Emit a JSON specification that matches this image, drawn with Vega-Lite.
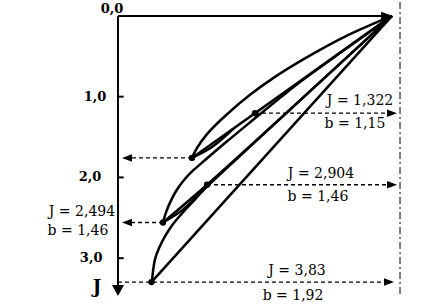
{
  "$schema": "https://vega.github.io/schema/vega-lite/v6.json",
  "width": 448,
  "height": 306,
  "padding": 0,
  "autosize": {"type": "fit", "contains": "padding"},
  "background": "white",
  "config": {"view": {"stroke": null}},
  "datasets": {
    "paths": [
      {"id": "arc1", "kind": "solid", "o": 1, "x": 3.370, "J": 0},
      {"id": "arc1", "kind": "solid", "o": 2, "x": 2.792, "J": 0.256},
      {"id": "arc1", "kind": "solid", "o": 3, "x": 2.300, "J": 0.526},
      {"id": "arc1", "kind": "solid", "o": 4, "x": 1.931, "J": 0.755},
      {"id": "arc1", "kind": "solid", "o": 5, "x": 1.624, "J": 0.977},
      {"id": "arc1", "kind": "solid", "o": 6, "x": 1.341, "J": 1.218},
      {"id": "arc1", "kind": "solid", "o": 7, "x": 1.095, "J": 1.464},
      {"id": "arc1", "kind": "solid", "o": 8, "x": 0.972, "J": 1.636},
      {"id": "arc1", "kind": "solid", "o": 9, "x": 0.910, "J": 1.759},
      {"id": "line1", "kind": "solid", "o": 1, "x": 3.370, "J": 0},
      {"id": "line1", "kind": "solid", "o": 2, "x": 0.910, "J": 1.759},
      {"id": "lens1", "kind": "solid", "o": 1, "x": 0.910, "J": 1.759},
      {"id": "lens1", "kind": "solid", "o": 2, "x": 1.156, "J": 1.624},
      {"id": "lens1", "kind": "solid", "o": 3, "x": 1.415, "J": 1.402},
      {"id": "arc2", "kind": "solid", "o": 1, "x": 0.554, "J": 2.558},
      {"id": "arc2", "kind": "solid", "o": 2, "x": 0.590, "J": 2.435},
      {"id": "arc2", "kind": "solid", "o": 3, "x": 0.640, "J": 2.312},
      {"id": "arc2", "kind": "solid", "o": 4, "x": 0.713, "J": 2.171},
      {"id": "arc2", "kind": "solid", "o": 5, "x": 0.800, "J": 2.048},
      {"id": "arc2", "kind": "solid", "o": 6, "x": 0.898, "J": 1.937},
      {"id": "arc2", "kind": "solid", "o": 7, "x": 1.009, "J": 1.839},
      {"id": "arc2", "kind": "solid", "o": 8, "x": 1.193, "J": 1.679},
      {"id": "arc2", "kind": "solid", "o": 9, "x": 1.378, "J": 1.523},
      {"id": "arc2", "kind": "solid", "o": 10, "x": 1.685, "J": 1.267},
      {"id": "arc2", "kind": "solid", "o": 11, "x": 1.993, "J": 1.015},
      {"id": "arc2", "kind": "solid", "o": 12, "x": 2.239, "J": 0.818},
      {"id": "arc2", "kind": "solid", "o": 13, "x": 3.370, "J": 0},
      {"id": "line2", "kind": "solid", "o": 1, "x": 0.554, "J": 2.558},
      {"id": "line2", "kind": "solid", "o": 2, "x": 1.095, "J": 2.091},
      {"id": "line2", "kind": "solid", "o": 3, "x": 3.370, "J": 0},
      {"id": "lens2", "kind": "solid", "o": 1, "x": 0.554, "J": 2.558},
      {"id": "lens2", "kind": "solid", "o": 2, "x": 0.800, "J": 2.399},
      {"id": "lens2", "kind": "solid", "o": 3, "x": 1.046, "J": 2.152},
      {"id": "arc3", "kind": "solid", "o": 1, "x": 0.418, "J": 3.296},
      {"id": "arc3", "kind": "solid", "o": 2, "x": 0.431, "J": 3.161},
      {"id": "arc3", "kind": "solid", "o": 3, "x": 0.455, "J": 3.014},
      {"id": "arc3", "kind": "solid", "o": 4, "x": 0.504, "J": 2.878},
      {"id": "arc3", "kind": "solid", "o": 5, "x": 0.578, "J": 2.731},
      {"id": "arc3", "kind": "solid", "o": 6, "x": 0.664, "J": 2.595},
      {"id": "arc3", "kind": "solid", "o": 7, "x": 0.775, "J": 2.460},
      {"id": "arc3", "kind": "solid", "o": 8, "x": 0.910, "J": 2.312},
      {"id": "arc3", "kind": "solid", "o": 9, "x": 1.070, "J": 2.140},
      {"id": "arc3", "kind": "solid", "o": 10, "x": 1.255, "J": 1.962},
      {"id": "arc3", "kind": "solid", "o": 11, "x": 3.370, "J": 0},
      {"id": "line3", "kind": "solid", "o": 1, "x": 0.412, "J": 3.296},
      {"id": "line3", "kind": "solid", "o": 2, "x": 3.370, "J": 0},
      {"id": "d1", "kind": "dash", "o": 1, "x": 0.910, "J": 1.759},
      {"id": "d1", "kind": "dash", "o": 2, "x": 0.12, "J": 1.759},
      {"id": "d2", "kind": "dash", "o": 1, "x": 1.685, "J": 1.205},
      {"id": "d2", "kind": "dash", "o": 2, "x": 3.36, "J": 1.205},
      {"id": "d3", "kind": "dash", "o": 1, "x": 0.554, "J": 2.558},
      {"id": "d3", "kind": "dash", "o": 2, "x": 0.12, "J": 2.558},
      {"id": "d4", "kind": "dash", "o": 1, "x": 1.095, "J": 2.091},
      {"id": "d4", "kind": "dash", "o": 2, "x": 3.36, "J": 2.091},
      {"id": "d5", "kind": "dash", "o": 1, "x": 0, "J": 3.296},
      {"id": "d5", "kind": "dash", "o": 2, "x": 3.33, "J": 3.296},
      {"id": "rd", "kind": "dashdot", "o": 1, "x": 3.469, "J": -0.172},
      {"id": "rd", "kind": "dashdot", "o": 2, "x": 3.469, "J": 3.469},
      {"id": "ax", "kind": "axis", "o": 1, "x": 0, "J": 0},
      {"id": "ax", "kind": "axis", "o": 2, "x": 0, "J": 3.36},
      {"id": "top", "kind": "axis", "o": 1, "x": 0, "J": 0},
      {"id": "top", "kind": "axis", "o": 2, "x": 3.30, "J": 0},
      {"id": "t1", "kind": "axis", "o": 1, "x": 0, "J": 1},
      {"id": "t1", "kind": "axis", "o": 2, "x": 0.07, "J": 1},
      {"id": "t2", "kind": "axis", "o": 1, "x": 0, "J": 2},
      {"id": "t2", "kind": "axis", "o": 2, "x": 0.07, "J": 2},
      {"id": "t3", "kind": "axis", "o": 1, "x": 0, "J": 3},
      {"id": "t3", "kind": "axis", "o": 2, "x": 0.07, "J": 3}
    ],
    "heads": [
      {"dir": "left", "x": 0.049, "J": 1.759},
      {"dir": "left", "x": 0.049, "J": 2.558},
      {"dir": "right", "x": 3.432, "J": 1.205},
      {"dir": "right", "x": 3.432, "J": 2.091},
      {"dir": "right", "x": 3.395, "J": 3.296},
      {"dir": "top", "x": 3.383, "J": 0},
      {"dir": "down", "x": 0, "J": 3.469}
    ],
    "dots": [
      {"x": 0.910, "J": 1.759},
      {"x": 1.685, "J": 1.205},
      {"x": 0.554, "J": 2.558},
      {"x": 1.095, "J": 2.091},
      {"x": 0.412, "J": 3.296}
    ],
    "texts": [
      {"kind": "tick", "label": "0,0", "x": -0.074, "J": -0.086},
      {"kind": "tick", "label": "1,0", "x": -0.283, "J": 1.0},
      {"kind": "tick", "label": "2,0", "x": -0.344, "J": 2.0},
      {"kind": "tick", "label": "3,0", "x": -0.33, "J": 3.0},
      {"kind": "annot", "label": "J = 1,322", "x": 2.977, "J": 1.058},
      {"kind": "annot", "label": "b = 1,15", "x": 2.915, "J": 1.341},
      {"kind": "annot", "label": "J = 2,904", "x": 2.497, "J": 1.956},
      {"kind": "annot", "label": "b = 1,46", "x": 2.460, "J": 2.239},
      {"kind": "annot", "label": "J = 3,83", "x": 2.202, "J": 3.161},
      {"kind": "annot", "label": "b = 1,92", "x": 2.153, "J": 3.469},
      {"kind": "annot", "label": "J = 2,494", "x": -0.443, "J": 2.423},
      {"kind": "annot", "label": "b = 1,46", "x": -0.492, "J": 2.669},
      {"kind": "big", "label": "J", "x": -0.258, "J": 3.37}
    ]
  },
  "encoding": {
    "x": {"field": "x", "type": "quantitative", "scale": {"domain": [-1.451, 4.059], "nice": false, "zero": false}, "axis": null},
    "y": {"field": "J", "type": "quantitative", "scale": {"domain": [-0.172, 3.592], "nice": false, "zero": false, "reverse": true}, "axis": null}
  },
  "layer": [
    {
      "data": {"name": "paths"},
      "transform": [{"filter": "datum.kind === 'solid'"}],
      "mark": {"type": "line", "color": "black", "strokeWidth": 2.5, "interpolate": "catmull-rom"},
      "encoding": {"detail": {"field": "id"}, "order": {"field": "o", "type": "quantitative"}}
    },
    {
      "data": {"name": "paths"},
      "transform": [{"filter": "datum.kind === 'dash'"}],
      "mark": {"type": "line", "color": "black", "strokeWidth": 1.3, "strokeDash": [4, 3]},
      "encoding": {"detail": {"field": "id"}, "order": {"field": "o", "type": "quantitative"}}
    },
    {
      "data": {"name": "paths"},
      "transform": [{"filter": "datum.kind === 'dashdot'"}],
      "mark": {"type": "line", "color": "black", "strokeWidth": 1, "strokeDash": [7, 3, 2, 3]},
      "encoding": {"detail": {"field": "id"}, "order": {"field": "o", "type": "quantitative"}}
    },
    {
      "data": {"name": "paths"},
      "transform": [{"filter": "datum.kind === 'axis'"}],
      "mark": {"type": "line", "color": "black", "strokeWidth": 2},
      "encoding": {"detail": {"field": "id"}, "order": {"field": "o", "type": "quantitative"}}
    },
    {
      "data": {"name": "heads"},
      "mark": {"type": "point", "filled": true, "color": "black", "opacity": 1, "size": 100, "strokeWidth": 0},
      "encoding": {
        "shape": {
          "field": "dir",
          "type": "nominal",
          "scale": {
            "domain": ["left", "right", "top", "down"],
            "range": ["M0,0L2,-0.75L2,0.75Z", "M0,0L-2,-0.75L-2,0.75Z", "M0,0L-2.4,-0.85L-2.4,0.85Z", "M0,0L-1.2,-2.2L1.2,-2.2Z"]
          },
          "legend": null
        }
      }
    },
    {
      "data": {"name": "dots"},
      "mark": {"type": "circle", "color": "black", "opacity": 1, "size": 40}
    },
    {
      "data": {"name": "texts"},
      "transform": [{"filter": "datum.kind === 'tick'"}],
      "mark": {"type": "text", "font": "DejaVu Serif", "fontSize": 13, "fontWeight": "bold", "color": "black", "align": "center", "baseline": "middle"},
      "encoding": {"text": {"field": "label"}}
    },
    {
      "data": {"name": "texts"},
      "transform": [{"filter": "datum.kind === 'annot'"}],
      "mark": {"type": "text", "font": "DejaVu Serif", "fontSize": 14, "color": "black", "align": "center", "baseline": "middle"},
      "encoding": {"text": {"field": "label"}}
    },
    {
      "data": {"name": "texts"},
      "transform": [{"filter": "datum.kind === 'big'"}],
      "mark": {"type": "text", "font": "DejaVu Serif", "fontSize": 18, "fontWeight": "bold", "color": "black", "align": "center", "baseline": "middle"},
      "encoding": {"text": {"field": "label"}}
    }
  ]
}
